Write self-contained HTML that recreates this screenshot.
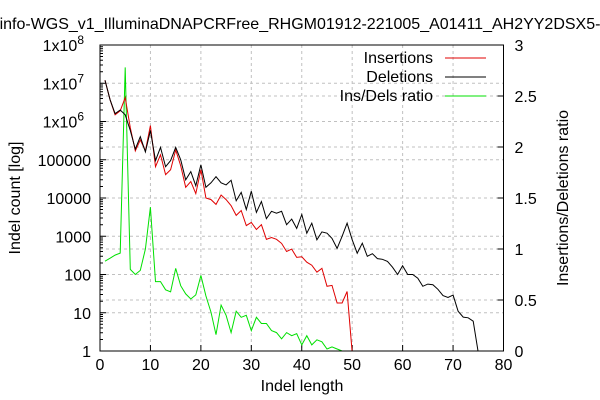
<!DOCTYPE html>
<html><head><meta charset="utf-8"><style>
body{margin:0;background:#fff;}
svg{display:block;font-family:"Liberation Sans",sans-serif;}
</style></head><body>
<svg id="chart" width="600" height="400" xmlns="http://www.w3.org/2000/svg">
<text x="300" y="29" font-size="16" text-anchor="middle">info-WGS_v1_IlluminaDNAPCRFree_RHGM01912-221005_A01411_AH2YY2DSX5-</text>
<g id="grid"></g>
<g id="axes"></g>
<g id="series"></g>
<rect x="100" y="45" width="403.5" height="306" fill="none" stroke="#000" stroke-width="1"/>
<text transform="translate(20,198) rotate(-90)" font-size="16" text-anchor="middle">Indel count [log]</text>
<text transform="translate(568,198) rotate(-90)" font-size="16" text-anchor="middle">Insertions/Deletions ratio</text>
<text x="302" y="391" font-size="16" text-anchor="middle">Indel length</text>
<g font-size="16" text-anchor="end">
<text x="433" y="63">Insertions</text>
<line x1="445" y1="58" x2="486" y2="58" stroke="#e00000"/>
<text x="433" y="82">Deletions</text>
<line x1="445" y1="77" x2="486" y2="77" stroke="#000"/>
<text x="433" y="101">Ins/Dels ratio</text>
<line x1="445" y1="96" x2="486" y2="96" stroke="#00e000"/>
</g>
</svg>
<script>
const xTicks=[0,10,20,30,40,50,60,70,80];
const yExp=[0,1,2,3,4,5,6,7,8];
const yTickLabels=["1","10","100","1000","10000","100000","1x10^6","1x10^7","1x10^8"];
const y2Ticks=[0,0.5,1,1.5,2,2.5,3];
const y2TickLabels=["0","0.5","1","1.5","2","2.5","3"];
const delLengths=[1,2,3,4,5,6,7,8,9,10,11,12,13,14,15,16,17,18,19,20,21,22,23,24,25,26,27,28,29,30,31,32,33,34,35,36,37,38,39,40,41,42,43,44,45,46,47,48,49,50,51,52,53,54,55,56,57,58,59,60,61,62,63,64,65,66,67,68,69,70,71,72,73,74,75];
const deletions=[1.2e7,3.7e6,1.6e6,2.0e6,1.5e6,5.8e5,1.9e5,4.0e5,1.6e5,5.8e5,9.5e4,2.1e5,6.6e4,9.5e4,2.1e5,1.0e5,3.0e4,4.9e4,2.1e4,7.4e4,1.9e4,2.5e4,3.6e4,2.5e4,2.2e4,2.9e4,8.5e3,1.4e4,5.0e3,1.5e4,4.2e3,8.1e3,2.9e3,4.5e3,4.0e3,4.5e3,2.0e3,2.8e3,1.6e3,3.7e3,1.2e3,2.2e3,810,1300,1200,880,480,1000,2200,810,360,660,300,350,260,250,220,155,100,170,100,100,80,49,56,54,41,28,25,29,11,7.7,7.4,6.0,0.9];
const insLengths=[1,2,3,4,5,6,7,8,9,10,11,12,13,14,15,16,17,18,19,20,21,22,23,24,25,26,27,28,29,30,31,32,33,34,35,36,37,38,39,40,41,42,43,44,45,46,47,48,49,50];
const insertions=[1.2e7,3.7e6,1.5e6,1.9e6,4.2e6,6.9e5,1.7e5,3.3e5,1.7e5,7.8e5,6.6e4,1.35e5,4.1e4,5.5e4,1.8e5,7.0e4,1.9e4,2.7e4,1.3e4,5.5e4,1.0e4,9.1e3,6.8e3,1.2e4,9.1e3,6.3e3,3.5e3,4.7e3,1.9e3,2.3e3,1.5e3,2.0e3,830,930,830,650,400,460,280,290,210,175,115,145,49,52,18,18,36,0.9];
const ratio=[0.88,0.91,0.94,0.96,2.78,0.80,0.75,0.79,1.00,1.41,0.68,0.68,0.60,0.58,0.81,0.64,0.56,0.51,0.55,0.74,0.54,0.38,0.16,0.45,0.35,0.18,0.39,0.33,0.35,0.20,0.33,0.27,0.27,0.20,0.18,0.12,0.18,0.15,0.17,0.06,0.15,0.06,0.11,0.09,0.02,0.04,0.02,0.0,0.0,0.0];

const L=100,R=503.5,T=45,B=351,NS="http://www.w3.org/2000/svg";
const sx=v=>L+(v-0)/80*(R-L);
const sy=v=>{const e=Math.log10(Math.max(v,1e-3));return B-e/8*(B-T);};
const syE=e=>B-e/8*(B-T);
const sy2=v=>B-v/3*(B-T);
function mk(tag,attrs,parent){const e=document.createElementNS(NS,tag);for(const k in attrs)e.setAttribute(k,attrs[k]);parent.appendChild(e);return e;}
const grid=document.getElementById('grid'),axes=document.getElementById('axes'),series=document.getElementById('series');
xTicks.forEach((t,i)=>{
  const x=sx(t);
  if(i>0&&i<xTicks.length-1){const g=mk('line',{x1:x,y1:T,x2:x,y2:B,stroke:'#c0c0c0','stroke-dasharray':'3,3'},grid);
  
  }
  mk('line',{x1:x,y1:B,x2:x,y2:B-6,stroke:'#000'},axes);
  const tx=mk('text',{x:x,y:B+19,'font-size':16,'text-anchor':'middle'},axes);tx.textContent=t;
  
  
});
yExp.forEach((e,i)=>{
  const y=syE(e);
  if(i>0&&i<yExp.length-1){const g=mk('line',{x1:L,y1:y,x2:R,y2:y,stroke:'#c0c0c0','stroke-dasharray':'3,3'},grid);
  
  }
  mk('line',{x1:L,y1:y,x2:L+6,y2:y,stroke:'#000'},axes);
  if(e<8){for(let m=2;m<10;m++){const yy=syE(e+Math.log10(m));mk('line',{x1:L,y1:yy,x2:L+3,y2:yy,stroke:'#000'},axes);}}
  const lab=yTickLabels[i];
  const tx=mk('text',{x:L-9,y:y+6,'font-size':16,'text-anchor':'end'},axes);
  
  
  if(lab.indexOf('^')>=0){const p=lab.split('^');tx.textContent=p[0];const sp=mk('tspan',{dy:-7,'font-size':12},tx);sp.textContent=p[1];tx.setAttribute('x',L-16);}
  else tx.textContent=lab;
});
y2Ticks.forEach((t,i)=>{
  const y=sy2(t);
  if(i>0&&i<y2Ticks.length-1){const g=mk('line',{x1:L,y1:y,x2:R,y2:y,stroke:'#c0c0c0','stroke-dasharray':'3,3'},grid);
  
  }
  mk('line',{x1:R,y1:y,x2:R-6,y2:y,stroke:'#000'},axes);
  const tx=mk('text',{x:R+11,y:y+6,'font-size':16},axes);tx.textContent=y2TickLabels[i];
  
  
});
const clip=mk('clipPath',{id:'pc'},document.getElementById('chart'));mk('rect',{x:L,y:T,width:R-L,height:B-T},clip);
function line(xs,ys,f,color,name){
  const pts=xs.map((x,i)=>sx(x).toFixed(1)+','+f(ys[i]).toFixed(1)).join(' ');
  const p=mk('polyline',{points:pts,fill:'none',stroke:color,'stroke-width':1,'clip-path':'url(#pc)'},series);
  
  
}
line(insLengths,ratio,sy2,'#00e000','ratio-line');
line(insLengths,insertions,sy,'#e00000','insertions-line');
line(delLengths,deletions,sy,'#000000','deletions-line');
</script>
</body></html>
